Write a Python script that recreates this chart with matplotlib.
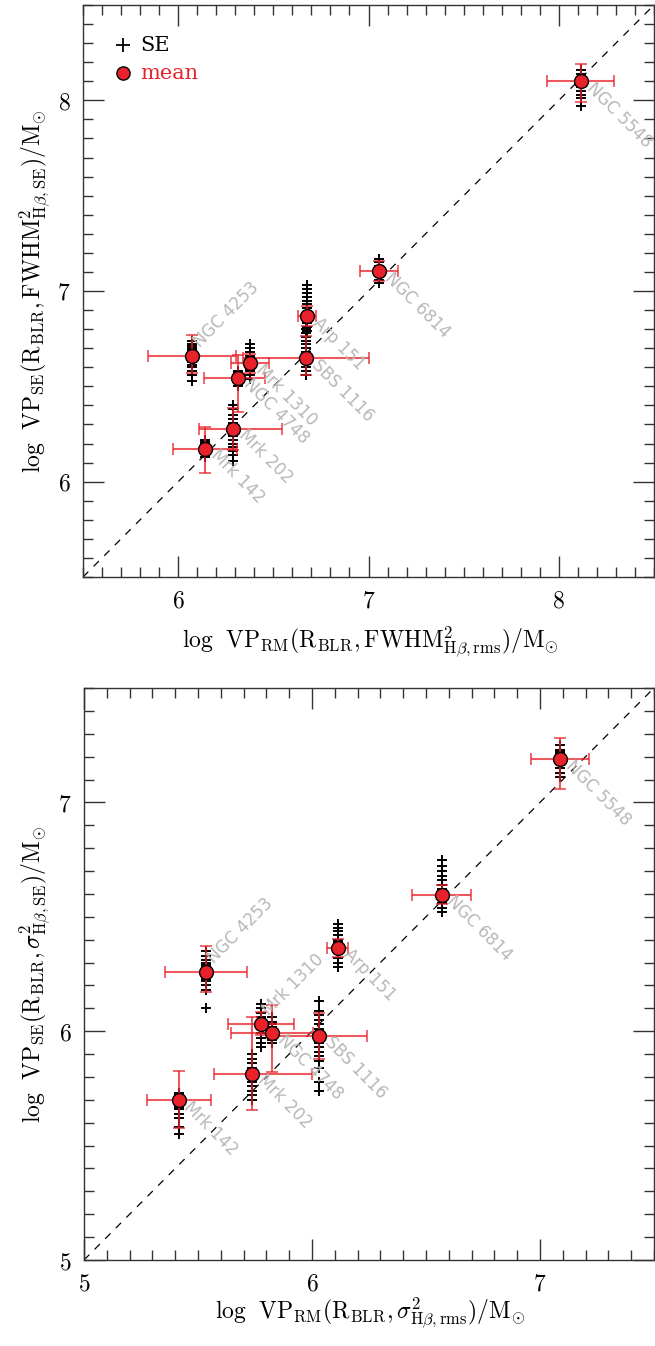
import matplotlib
matplotlib.use('Agg')
import matplotlib.pyplot as plt
from matplotlib.ticker import MultipleLocator, FuncFormatter

plt.rcParams['mathtext.fontset'] = 'cm'
plt.rcParams['font.family'] = 'serif'
plt.rcParams['font.serif'] = ['DejaVu Serif']

# objects (same order in both panels)
names = ["NGC 4253", "Mrk 1310", "NGC 4748", "Mrk 202", "Mrk 142",
         "SBS 1116", "Arp 151", "NGC 6814", "NGC 5548"]

# ---- top panel: FWHM based ----
x_top = [6.073, 6.379, 6.314, 6.287, 6.141, 6.671, 6.676, 7.057, 8.115]
y_top = [6.66, 6.621, 6.546, 6.278, 6.173, 6.647, 6.869, 7.105, 8.10]
xerr_lo_top = [0.23, 0.10, 0.18, 0.18, 0.17, 0.33, 0.046, 0.10, 0.175]
xerr_hi_top = [0.23, 0.10, 0.14, 0.26, 0.17, 0.33, 0.046, 0.10, 0.175]
yerr_lo_top = [0.09, 0.05, 0.18, 0.11, 0.13, 0.09, 0.05, 0.05, 0.11]
yerr_hi_top = [0.11, 0.05, 0.12, 0.11, 0.116, 0.117, 0.05, 0.05, 0.09]
se_top = [
    [6.53, 6.56, 6.58, 6.60, 6.61, 6.63, 6.64, 6.65, 6.66, 6.67, 6.68, 6.69, 6.70, 6.71, 6.72, 6.74],
    [6.54, 6.56, 6.58, 6.59, 6.60, 6.61, 6.62, 6.63, 6.64, 6.65, 6.66, 6.68, 6.70, 6.72],
    [6.50, 6.52, 6.53, 6.54, 6.55, 6.56, 6.57, 6.58],
    [6.11, 6.14, 6.16, 6.18, 6.20, 6.22, 6.24, 6.26, 6.27, 6.28, 6.30, 6.31, 6.33, 6.35, 6.38, 6.40],
    [6.13, 6.15, 6.16, 6.17, 6.18, 6.19, 6.20, 6.21, 6.22],
    [6.56, 6.58, 6.60, 6.62, 6.63, 6.64, 6.65, 6.66, 6.67, 6.68, 6.70, 6.72, 6.74, 6.76, 6.78, 6.80],
    [6.79, 6.81, 6.83, 6.85, 6.87, 6.89, 6.91, 6.93, 6.95, 6.97, 6.99, 7.01, 7.03],
    [7.04, 7.06, 7.08, 7.09, 7.10, 7.11, 7.12, 7.13, 7.15, 7.17],
    [7.97, 8.01, 8.03, 8.05, 8.07, 8.08, 8.09, 8.10, 8.12, 8.14, 8.16],
]
rot_top = [45, -45, -45, -45, -45, -45, -45, -45, -45]

# ---- bottom panel: sigma based ----
x_bot = [5.537, 5.778, 5.826, 5.739, 5.415, 6.03, 6.112, 6.568, 7.088]
y_bot = [6.26, 6.032, 5.99, 5.815, 5.70, 5.98, 6.365, 6.597, 7.19]
xerr_lo_bot = [0.18, 0.145, 0.18, 0.17, 0.14, 0.21, 0.046, 0.13, 0.127]
xerr_hi_bot = [0.18, 0.145, 0.18, 0.26, 0.14, 0.21, 0.046, 0.13, 0.127]
yerr_lo_bot = [0.087, 0.05, 0.17, 0.16, 0.125, 0.10, 0.04, 0.04, 0.13]
yerr_hi_bot = [0.114, 0.05, 0.125, 0.245, 0.125, 0.10, 0.04, 0.04, 0.09]
se_bot = [
    [6.10, 6.18, 6.20, 6.22, 6.23, 6.24, 6.25, 6.26, 6.27, 6.28, 6.29, 6.30, 6.31, 6.33, 6.35],
    [5.93, 5.95, 5.97, 5.99, 6.01, 6.02, 6.03, 6.04, 6.05, 6.06, 6.08, 6.10, 6.12],
    [5.95, 5.96, 5.97, 5.98, 5.99, 6.00, 6.01, 6.02, 6.03, 6.04, 6.06],
    [5.70, 5.72, 5.74, 5.76, 5.78, 5.79, 5.80, 5.81, 5.82, 5.83, 5.84, 5.86, 5.88, 5.90],
    [5.55, 5.58, 5.62, 5.64, 5.66, 5.67, 5.68, 5.69, 5.70, 5.71, 5.72, 5.73],
    [5.74, 5.78, 5.84, 5.87, 5.89, 5.91, 5.93, 5.95, 5.97, 5.99, 6.01, 6.03, 6.05, 6.07, 6.09, 6.13],
    [6.28, 6.30, 6.32, 6.34, 6.35, 6.36, 6.37, 6.38, 6.39, 6.40, 6.42, 6.44, 6.45, 6.47],
    [6.52, 6.54, 6.56, 6.58, 6.60, 6.62, 6.64, 6.66, 6.68, 6.70, 6.72, 6.75],
    [7.11, 7.13, 7.15, 7.17, 7.18, 7.19, 7.20, 7.21, 7.22, 7.23, 7.25],
]
rot_bot = [45, 45, -45, -45, -45, -45, -45, -45, -45]

red = '#e8222a'


def panel(ax, xs, ys, xlo, xhi, ylo, yhi, se, rots, lims):
    lo, hi = lims
    ax.plot([lo, hi], [lo, hi], ls=(0, (6, 6)), color='black', lw=0.9, zorder=1)
    for x, vals in zip(xs, se):
        ax.plot([x] * len(vals), vals, ls='none', marker='+', ms=7.5, mew=1.4,
                color='black', zorder=2)
    ax.errorbar(xs, ys, xerr=[xlo, xhi], yerr=[ylo, yhi], fmt='none',
                ecolor=red, alpha=0.75, elinewidth=1.5, capsize=4, capthick=1.3,
                zorder=3)
    ax.plot(xs, ys, ls='none', marker='o', ms=10, mfc=red, mec='black',
            mew=1.0, zorder=4)
    for x, y, name, r in zip(xs, ys, names, rots):
        if r > 0:
            off = (3, 8)
        else:
            off = (6, -3)
        ax.annotate(name, (x, y), xytext=off, textcoords='offset points',
                    rotation=r, rotation_mode='anchor', ha='left', va='center',
                    color='#b8b8b8', fontsize=12, family=['DejaVu Sans'],
                    zorder=5)
    ax.set_xlim(lo, hi)
    ax.set_ylim(lo, hi)
    ax.xaxis.set_major_locator(MultipleLocator(1))
    ax.yaxis.set_major_locator(MultipleLocator(1))
    ax.xaxis.set_minor_locator(MultipleLocator(0.1))
    ax.yaxis.set_minor_locator(MultipleLocator(0.1))
    fmt = FuncFormatter(lambda v, p: r'$%d$' % round(v))
    ax.xaxis.set_major_formatter(fmt)
    ax.yaxis.set_major_formatter(fmt)
    ax.tick_params(which='both', direction='in', top=True, right=True,
                   labelsize=17, width=1.0, color='#333333')
    ax.tick_params(which='major', length=15, pad=9)
    ax.tick_params(which='minor', length=7)
    for s in ax.spines.values():
        s.set_linewidth(1.0)
        s.set_color('#333333')


fig = plt.figure(figsize=(6.55, 13.46), dpi=100)
ax1 = fig.add_axes([83 / 655, 1 - 577 / 1346, 571 / 655, 572 / 1346])
ax2 = fig.add_axes([84 / 655, 1 - 1260 / 1346, 570 / 655, 572 / 1346])

panel(ax1, x_top, y_top, xerr_lo_top, xerr_hi_top, yerr_lo_top, yerr_hi_top,
      se_top, rot_top, (5.5, 8.5))
panel(ax2, x_bot, y_bot, xerr_lo_bot, xerr_hi_bot, yerr_lo_bot, yerr_hi_bot,
      se_bot, rot_bot, (5.0, 7.5))

# legend drawn by hand, top left of upper panel
ax1.plot([0.07], [0.93], transform=ax1.transAxes, marker='+', ms=10, mew=1.3,
         color='black', ls='none')
ax1.text(0.1, 0.93, 'SE', transform=ax1.transAxes, fontsize=15, va='center')
ax1.plot([0.07], [0.881], transform=ax1.transAxes, marker='o', ms=9.5, mfc=red,
         mec='black', mew=1.0, ls='none')
ax1.text(0.1, 0.881, 'mean', transform=ax1.transAxes, fontsize=15, va='center',
         color=red)

fig.text(370 / 655, 1 - 642 / 1346,
         r'$\mathrm{log\ \ VP_{RM}(R_{BLR},FWHM^{2}_{H\beta,rms})/M_{\odot}}$',
         ha='center', va='center', fontsize=17)
fig.text(35 / 655, 1 - 291 / 1346,
         r'$\mathrm{log\ \ VP_{SE}(R_{BLR},FWHM^{2}_{H\beta,SE})/M_{\odot}}$',
         ha='center', va='center', rotation=90, fontsize=17)
fig.text(370 / 655, 1 - 1313 / 1346,
         r'$\mathrm{log\ \ VP_{RM}(R_{BLR},\sigma^{2}_{H\beta,rms})/M_{\odot}}$',
         ha='center', va='center', fontsize=17)
fig.text(35 / 655, 1 - 974 / 1346,
         r'$\mathrm{log\ \ VP_{SE}(R_{BLR},\sigma^{2}_{H\beta,SE})/M_{\odot}}$',
         ha='center', va='center', rotation=90, fontsize=17)

fig.savefig('out.png', dpi=100)
